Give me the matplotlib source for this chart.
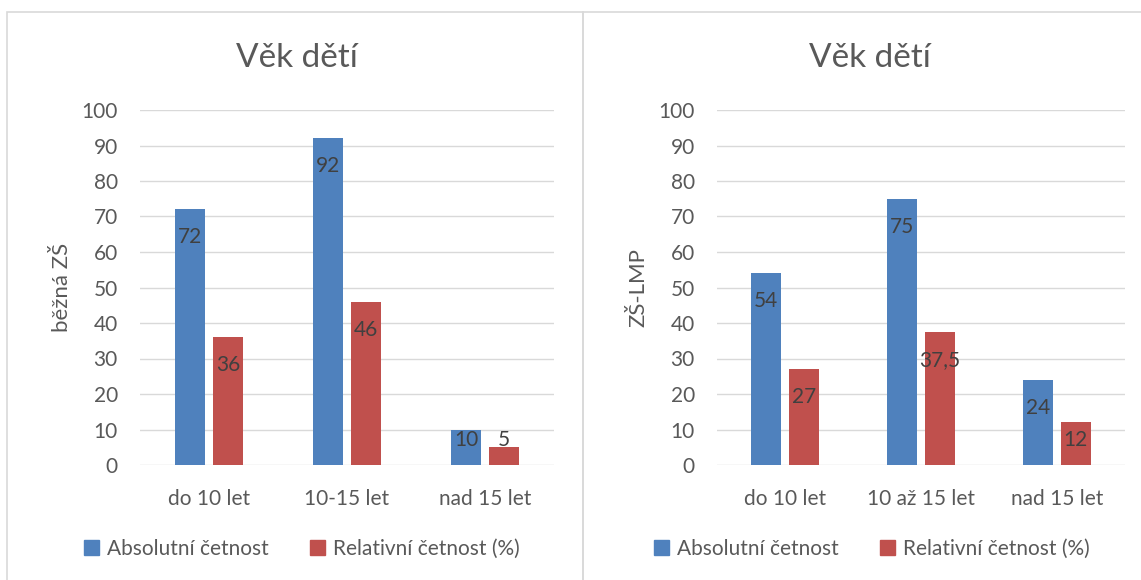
import matplotlib.pyplot as plt
import numpy as np
from matplotlib.patches import Patch, Rectangle

plt.rcParams['font.family'] = ['Lato', 'DejaVu Sans']

title = 'Věk dětí'
series_names = ['Absolutní četnost', 'Relativní četnost (%)']

cats_zs = ['do 10 let', '10-15 let', 'nad 15 let']
abs_zs = [72, 92, 10]
rel_zs = [36, 46, 5]

cats_lmp = ['do 10 let', '10 až 15 let', 'nad 15 let']
abs_lmp = [54, 75, 24]
rel_lmp = [27, 37.5, 12]

yticks = np.arange(0, 101, 10)

BLUE = '#4F81BD'
RED = '#C0504D'
GRID = '#D9D9D9'
TXT = '#595959'
LBL = '#404040'

W, H = 1141, 580
fig = plt.figure(figsize=(W / 100, H / 100), dpi=100)


def px_axes(x0, x1, ytop, ybot):
    return fig.add_axes([x0 / W, 1 - ybot / H, (x1 - x0) / W, (ybot - ytop) / H])


def fmt(v):
    return ('%g' % v).replace('.', ',')


def draw(ax, cats, a, r, ylabel):
    x = np.arange(len(cats))
    bw = 0.22
    gap = 0.055
    off = (bw + gap) / 2
    b1 = ax.bar(x - off, a, bw, color=BLUE, zorder=3)
    b2 = ax.bar(x + off, r, bw, color=RED, zorder=3)
    for bars, vals in ((b1, a), (b2, r)):
        for b, v in zip(bars, vals):
            ax.text(b.get_x() + b.get_width() / 2, max(v - 7.9, 7.0), fmt(v),
                    ha='center', va='center', fontsize=15, color=LBL, zorder=4)
    ax.set_xlim(-0.5, len(cats) - 0.5)
    ax.set_ylim(0, 100)
    ax.set_yticks(yticks)
    ax.set_xticks(x)
    ax.set_xticklabels(cats)
    ax.grid(axis='y', color=GRID, linewidth=1, zorder=0)
    for s in ax.spines.values():
        s.set_visible(False)
    ax.tick_params(length=0, labelsize=15, colors=TXT)
    ax.tick_params(axis='y', pad=16)
    ax.tick_params(axis='x', pad=17)
    ax.set_ylabel(ylabel, fontsize=16, color=TXT, labelpad=7)


# panel borders
fig.patches.append(Rectangle((7 / W, -0.1), 576 / W, 1 - 12 / H + 0.1,
                             transform=fig.transFigure, fill=False,
                             edgecolor=GRID, linewidth=1.2))
fig.patches.append(Rectangle((583 / W, -0.1), 600 / W, 1 - 12 / H + 0.1,
                             transform=fig.transFigure, fill=False,
                             edgecolor=GRID, linewidth=1.2))

ax1 = px_axes(140, 554, 110, 465)
draw(ax1, cats_zs, abs_zs, rel_zs, 'běžná ZŠ')
ax2 = px_axes(717, 1125, 110, 465)
draw(ax2, cats_lmp, abs_lmp, rel_lmp, 'ZŠ-LMP')

# titles centred on each panel
for cx in (297, 870):
    fig.text(cx / W, 1 - 58 / H, title, ha='center', va='center',
             fontsize=24, color=TXT)

handles = [Patch(color=BLUE), Patch(color=RED)]
for cx in (302, 872):
    leg = fig.legend(handles, series_names, loc='center', ncol=2,
                     bbox_to_anchor=(cx / W, 1 - 549 / H), frameon=False,
                     fontsize=15, handlelength=0.7, handleheight=0.7,
                     handletextpad=0.4, columnspacing=2.0)
    for t in leg.get_texts():
        t.set_color(TXT)

fig.savefig('out.png', dpi=100)
